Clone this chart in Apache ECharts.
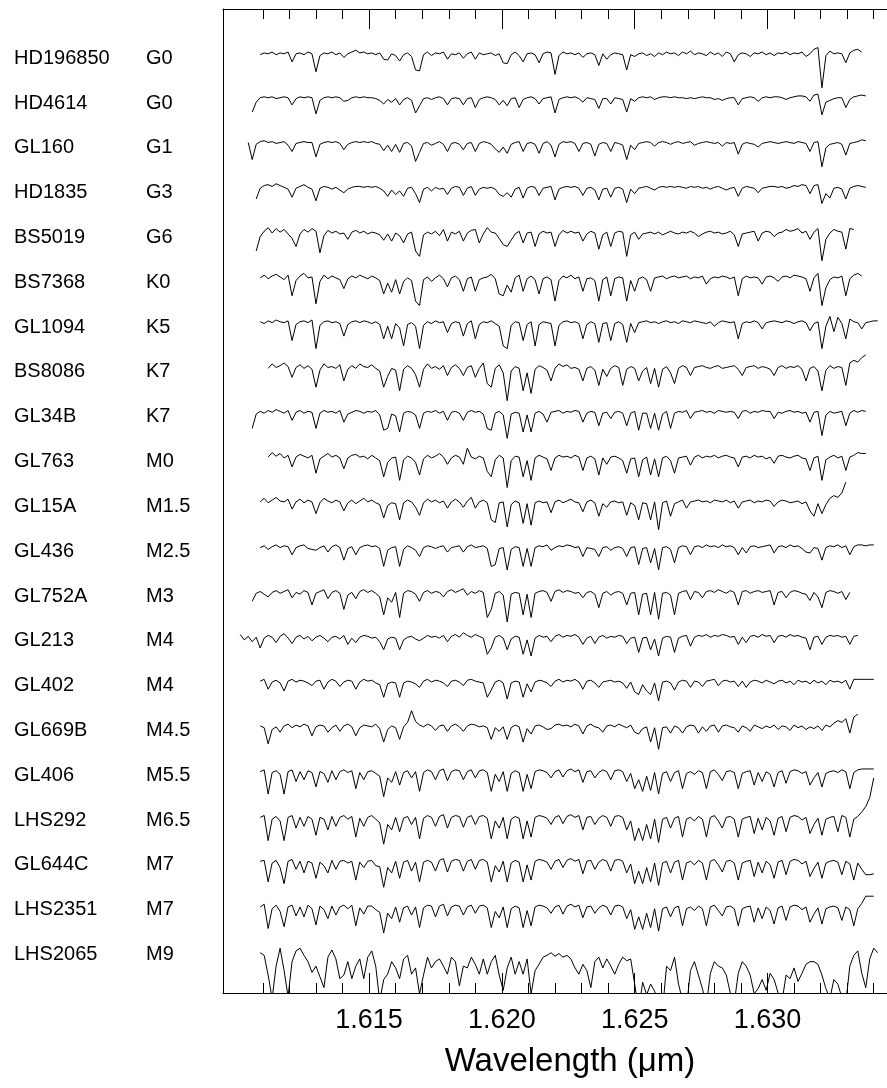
<!DOCTYPE html>
<html>
<head>
<meta charset="utf-8">
<title>H-band spectral sequence</title>
<script src="https://cdn.jsdelivr.net/npm/echarts@6/dist/echarts.min.js"></script>
<style>
  html, body { margin: 0; padding: 0; background: #fff; }
  #chart { width: 887px; height: 1088px; }
</style>
</head>
<body>
<div id="chart"></div>
<script>
// Star names and spectral types, top to bottom
const stars = ['HD196850','HD4614','GL160','HD1835','BS5019','BS7368','GL1094','BS8086','GL34B','GL763','GL15A',
               'GL436','GL752A','GL213','GL402','GL669B','GL406','LHS292','GL644C','LHS2351','LHS2065'];
const types = ['G0','G0','G1','G3','G6','K0','K5','K7','K7','M0','M1.5','M2.5','M3','M4','M4','M4.5','M5.5','M6.5','M7','M7','M9'];

// First wavelength (µm) of each spectrum; samples are spaced by STEP
const STEP = 0.00015;
const startWl = [1.6109,1.6106,1.61045,1.61075,1.61075,1.6109,1.6109,1.6112,1.6106,1.6112,1.6109,
                 1.6109,1.6106,1.61015,1.6109,1.6109,1.6109,1.6109,1.6109,1.6109,1.6109];

// Absorption depth below the continuum, in percent of continuum (negative = above)
const dHD196850 = [3,1,2,0,3,1,2,0,11,2, 1,3,0,2,22,4,1,2,0,3, 1,6,2,0,-2,1,0,2,1,3, 1,8,9,2,4,10,3,1,5,20,
  21,3,0,4,1,2,0,8,2,3, 1,7,2,0,8,1,3,2,1,4, 2,12,13,3,0,4,11,2,1,3, 12,2,0,1,25,4,0,2,1,3,
  1,6,2,1,3,15,2,8,3,1, 2,3,20,3,5,2,1,4,2,5, 1,3,0,2,1,4,0,2,-1,3, 1,2,4,0,3,1,5,0,2,11,
  3,1,2,5,1,2,0,3,1,4, 1,2,0,3,1,2,0,5,2,-3, -5,40,4,-1,2,1,2,12,1,-2, -3,0];
const dHD4614 = [17,6,1,0,1,0,2,1,0,1, 9,2,0,1,0,1,19,4,1,0, 1,0,1,5,4,1,0,1,0,1, 1,2,4,8,3,6,2,9,3,1,
  4,18,10,2,1,3,1,0,2,9, 2,1,2,9,2,1,12,3,1,0, 1,3,9,4,10,2,1,12,3,1, 0,2,8,2,1,0,18,3,1,0,
  1,0,2,6,1,2,3,13,2,2, 8,1,2,3,17,2,5,1,0,1, 0,3,1,0,0,1,0,1,1,2, 1,2,1,0,1,1,3,2,4,2,
  1,1,9,2,1,0,1,5,1,0, 1,0,0,1,3,1,0,-1,-1,0, 5,-2,-3,20,6,4,2,1,1,12, 3,0,-1,-2,-1];
const dGL160 = [1,20,3,0,-1,1,0,2,1,0, 4,11,2,1,0,1,1,17,3,1, 0,1,0,2,9,3,1,0,1,0, 1,0,2,3,10,4,11,3,12,2,
  1,5,22,12,2,1,4,2,0,3, 11,2,1,3,9,2,1,11,2,0, 1,3,8,12,6,13,3,1,0,11, 2,1,3,13,2,0,4,17,3,0,
  1,0,2,11,2,1,3,16,3,1, 2,11,1,2,4,20,4,9,2,1, 0,1,5,1,0,1,3,1,0,2, 1,0,4,2,1,0,1,2,1,5,
  1,2,1,14,3,1,2,3,6,2, 1,0,1,2,1,0,1,2,0,1, 2,11,1,0,28,7,3,2,1,3, 15,2,1,0,-2,-1];
const dHD1835 = [14,2,-1,-2,0,-3,-1,1,3,12, 2,0,-2,1,3,16,2,0,1,3, 1,4,7,3,1,0,0,1,0,1, 0,2,5,11,4,9,5,11,2,1,
  8,18,3,1,5,1,3,2,9,2, 0,1,10,2,0,10,3,1,2,1, 3,9,11,7,12,3,1,13,2,0, 1,10,2,1,0,15,3,1,0,1,
  0,2,10,2,1,4,15,3,2,12, 2,1,3,18,3,8,2,1,0,2, 4,1,0,1,0,1,0,1,2,0, 1,0,2,1,3,1,0,2,4,2,
  1,11,2,0,1,2,7,2,1,0, 0,1,0,2,1,-1,0,-2,-1,8, -1,-2,19,8,13,2,1,3,14,2, 0,-1,0,1];
const dBS5019 = [22,6,0,-4,2,-3,1,-2,3,8, 17,3,-2,1,-3,0,24,5,-1,2, 0,3,2,9,1,-1,2,0,3,1, 2,4,10,3,11,2,5,13,3,1,
  22,28,4,1,3,0,5,-2,11,1, 3,0,11,2,-1,-2,13,3,-4,1, 2,8,15,17,10,3,0,13,2,1, 17,3,0,2,1,17,4,-1,2,0,
  2,1,11,3,0,2,20,4,1,17, 2,0,1,28,4,1,9,3,2,1, 3,1,4,2,0,2,3,1,2,0, 2,6,3,1,0,2,1,3,2,0,
  4,17,3,2,1,0,11,2,0,1, 6,2,1,-2,0,-1,-3,2,0,9, 1,-3,33,9,2,-2,0,1,20,-3, -2];
const dBS7368 = [2,-1,3,0,-2,1,4,-1,22,5, 0,-3,2,1,31,6,-1,3,0,2, 4,14,3,0,2,-1,1,3,0,2, 5,20,8,18,4,20,6,2,5,28,
  33,4,1,6,2,-1,3,12,2,0, 4,17,3,1,17,4,2,1,-2,3, 20,22,10,18,2,-1,17,3,0,4, 20,3,1,4,28,5,0,2,-1,3,
  1,17,3,2,5,28,4,1,22,3, 1,2,28,5,17,3,1,4,17,2, 1,0,3,1,0,2,1,0,3,1, 2,0,9,3,1,2,0,1,3,1,
  22,3,0,2,1,2,9,1,0,2, 6,1,0,2,-1,0,1,3,17,2, -3,33,13,4,1,2,0,22,3,-1, -3,0];
const dGL1094 = [1,3,0,2,-1,1,2,0,22,4, 1,0,2,-1,31,5,1,0,2,1, 3,17,4,1,0,2,0,1,3,1, 4,20,6,20,3,8,28,4,2,6,
  31,5,1,3,0,2,1,13,3,1, 2,17,3,0,20,4,1,2,0,3, 6,28,31,5,1,2,22,4,1,28, 4,1,2,3,28,5,1,0,2,1,
  3,20,4,1,3,24,3,2,22,3, 1,4,24,3,13,2,1,0,2,1, 3,1,0,2,1,3,0,1,2,0, 1,2,3,1,6,2,0,1,2,1,
  20,3,1,2,0,2,9,2,1,0, 1,2,0,1,3,1,0,2,11,3, 1,31,6,-5,12,-4,3,20,-2,1, 2,9,2,1,0,0];
const dBS8086 = [3,-2,2,0,-3,1,13,2,-1,3, 0,4,24,5,-2,2,1,3,-1,17, 4,0,3,-2,1,2,-1,3,6,24, 12,3,5,28,4,0,3,10,24,4,
  -2,3,1,4,0,11,2,-1,3,11, 2,0,13,3,-3,20,24,3,-1,8, 39,6,1,3,28,8,31,4,0,2, 5,17,3,-2,1,-1,3,2,4,17,
  3,1,5,22,4,12,3,0,2,22, 4,1,3,17,6,2,20,3,24,4, 1,8,20,3,0,2,11,2,1,0, 2,3,1,0,3,2,1,0,4,11,
  2,1,0,3,1,2,4,11,2,0, 3,1,2,0,4,17,3,1,6,28, 5,0,3,1,2,22,-3,-6,-4,-9, -12];
const dGL34B = [20,4,1,3,0,2,-1,1,3,0, 11,2,0,3,1,2,20,3,0,2, 1,3,0,13,4,2,0,1,3,1, 2,0,5,22,20,4,6,24,3,1,
  2,5,20,3,1,2,0,3,1,11, 2,1,3,11,2,0,2,1,4,20, 22,3,1,5,31,4,2,3,24,5, 24,3,1,4,13,2,1,0,3,1,
  2,0,1,13,3,1,2,17,3,2, 9,2,1,3,17,3,1,22,3,3, 20,3,22,4,1,20,3,1,2,0, 9,2,1,0,2,1,3,0,1,2,
  1,2,9,1,0,3,1,2,0,1, 1,9,2,3,1,0,2,1,3,2, 13,2,1,28,5,1,3,2,1,17, 3,0,2,0,1];
const dGL763 = [2,-3,1,-2,3,0,13,2,-1,1, 3,0,20,4,1,-2,2,0,3,15, 3,0,-1,2,1,4,0,3,6,24, 8,3,2,28,5,1,3,8,22,4,
  0,3,1,-2,2,10,3,0,2,10, -8,2,4,1,3,18,24,5,0,3, 36,6,1,2,24,6,28,3,0,2, 4,17,3,0,2,1,3,0,2,17,
  3,1,4,22,3,10,2,1,3,6, 20,4,3,24,5,2,22,4,24,3, 1,6,20,3,2,1,11,2,0,3, 1,2,0,3,1,0,2,3,13,2,
  1,3,0,2,1,4,2,9,1,0, 2,3,1,0,3,4,17,3,1,28, 5,2,0,3,1,17,2,0,-3,-2, -2];
const dGL15A = [2,-2,3,0,-3,1,2,-1,10,2, -1,3,0,2,15,3,-2,1,3,0, 2,12,3,0,4,1,-2,2,0,3, 5,20,6,3,4,22,3,0,2,8,
  17,3,-1,2,0,3,1,9,2,-1, 2,8,1,-3,9,2,0,3,22,25, 3,2,30,5,1,3,26,4,28,3, 1,3,2,14,2,0,3,1,-1,2,
  3,13,2,0,3,18,4,8,2,1, 3,2,17,3,6,22,3,4,22,2, 33,3,1,18,4,2,0,9,2,1, 0,2,1,3,0,1,2,0,3,1,
  9,2,1,0,3,1,2,0,1,7, 2,0,1,3,2,1,4,2,12,18, 4,15,5,-2,-5,-3,-8,-20];
const dGL436 = [3,1,5,2,0,3,1,2,11,3, 1,0,4,5,6,3,1,8,2,0, 3,17,4,2,11,3,1,0,2,1, 4,24,6,3,2,24,5,1,3,6,
  13,3,1,2,4,2,1,8,3,2, 1,8,2,0,3,2,1,4,24,22, 4,3,28,5,2,3,24,4,24,3, 1,2,0,6,3,1,2,0,1,3,
  2,13,3,4,5,13,3,2,6,3, 2,4,13,3,2,22,4,3,20,4, 28,3,2,5,20,3,1,2,11,2, 1,3,0,2,1,3,0,2,1,3,
  11,3,9,2,1,3,2,1,0,9, 2,1,3,0,2,1,4,8,9,3, 4,17,3,1,2,0,3,1,11,2, 0,0,1,0,0];
const dGL752A = [13,4,2,5,8,3,1,4,2,0, 9,3,5,1,3,17,4,2,0,10, 3,1,4,22,6,3,10,2,0,3, 1,4,8,28,9,14,3,31,4,1,
  2,5,13,3,1,4,2,3,8,2, 0,3,1,-1,6,2,4,1,3,31, 22,4,2,6,36,5,3,4,28,5, 31,4,2,1,3,13,2,0,3,1,
  2,4,3,9,3,2,5,20,4,2, 6,3,2,4,17,4,3,28,5,4, 28,3,33,4,3,6,28,4,2,1, 11,2,3,9,2,1,3,0,2,4,
  1,3,17,2,1,4,2,1,3,2, 1,17,3,2,9,3,1,2,4,5, 12,3,8,20,3,1,2,4,2,11, 3];
const dGL213 = [0,6,2,8,3,15,4,1,3,9, 2,-1,4,10,3,1,5,2,7,3, 1,4,8,3,2,5,1,11,4,9, 3,1,2,4,3,8,17,5,3,4,
  17,6,3,2,5,7,4,1,3,2, 4,1,8,2,0,3,-2,1,3,0, 2,4,22,15,3,1,4,17,5,2, 3,22,6,24,4,1,3,2,8,2,
  0,3,1,2,0,3,11,4,2,10, 3,1,4,2,3,1,2,10,4,3, 20,4,3,17,5,24,4,2,3,20, 4,2,1,13,3,1,2,0,3,1,
  2,0,1,3,2,11,3,9,2,1, 3,0,2,1,9,2,1,3,0,2, 1,3,4,17,3,2,11,3,1,2, 1,3,2,11,2,1];
const dGL402 = [2,0,11,3,1,4,13,2,0,3, 1,2,4,7,2,1,11,3,0,2, 8,3,1,2,11,3,0,2,1,4, 6,20,5,3,4,20,4,2,3,5,
  9,2,0,3,1,2,4,8,2,1, 3,7,1,0,2,3,4,20,12,3, 1,4,22,4,2,3,20,5,14,3, 1,2,4,8,2,0,3,1,2,0,
  3,11,2,1,4,9,3,2,1,3, 2,4,10,3,14,17,6,13,17,4, 24,3,2,4,12,3,1,2,9,2, 3,8,2,1,0,7,2,1,3,2,
  8,2,9,3,1,2,4,1,3,5, 2,1,4,2,6,1,3,2,5,1, 4,2,6,1,3,2,4,1,11,0, 0,0,0,0,0];
const dGL669B = [2,4,22,6,3,9,2,0,4,1, 3,0,2,13,3,1,2,9,4,1, 8,2,0,3,13,4,1,2,3,0, 5,20,6,2,4,17,3,-2,-15,-3,
  1,3,0,2,7,2,1,8,2,0, 3,8,2,0,1,3,2,4,17,4, 8,3,17,4,1,3,20,5,11,2, 1,3,6,5,1,0,2,1,3,0,
  2,11,2,0,3,4,9,2,1,3, 0,2,4,1,9,11,5,3,20,4, 28,4,3,10,2,4,10,3,1,2, 10,3,8,2,1,9,2,1,3,4,
  9,2,4,8,1,3,5,2,4,1, 6,2,3,7,1,4,2,6,3,5, 2,7,1,3,-1,-4,-2,-6,10,-8, -11];
const dGL406 = [3,1,28,4,2,6,28,3,1,14, 3,12,2,4,20,3,5,15,2,12, 3,1,4,2,22,4,12,3,2,5, 8,31,10,15,3,18,4,2,10,3,
  25,4,1,3,12,2,0,13,3,1, 2,12,3,1,10,2,1,4,25,6, 14,3,25,5,2,4,25,6,22,3, 1,2,4,10,3,1,9,2,0,3,
  1,15,3,2,10,4,1,3,12,2, 1,3,14,5,22,12,25,8,24,4, 28,5,3,14,4,2,22,5,3,6, 2,4,22,3,1,6,13,3,2,4,
  22,5,3,2,18,4,14,3,6,20, 4,2,16,3,1,2,5,3,18,10, 4,20,5,3,2,4,1,3,22,4, 1,0,0,0,0];
const dLHS292 = [4,2,30,6,3,8,30,4,2,16, 4,14,3,6,24,4,6,18,3,14, 4,2,6,3,26,5,14,4,2,6, 10,34,12,18,4,20,5,3,12,4,
  28,5,2,4,14,3,1,16,4,2, 3,15,4,2,12,3,2,5,28,8, 16,4,28,6,3,5,28,8,26,4, 2,3,5,12,4,2,11,3,1,4,
  2,18,4,3,12,5,2,4,14,3, 2,4,18,8,30,16,30,12,28,6, 32,6,4,16,5,3,26,6,4,8, 3,6,26,4,2,8,16,4,3,6,
  26,6,4,3,22,5,18,4,8,24, 5,3,20,4,2,3,7,4,22,12, 5,24,6,4,3,20,2,4,26,6, 3,-2,-8,-18,-40];
const dGL644C = [3,2,26,5,2,10,28,3,1,12, 3,16,3,5,22,4,8,16,2,12, 3,2,5,3,24,4,10,3,2,8, 9,32,10,16,3,22,4,2,14,4,
  26,4,2,4,14,2,0,15,3,1, 2,14,3,1,12,2,1,4,26,8, 15,3,26,5,2,4,26,7,24,3, 1,2,4,12,3,1,10,2,0,3,
  1,17,3,2,12,4,1,3,14,2, 1,3,16,6,28,14,28,10,26,5, 30,5,3,16,4,2,24,5,3,7, 2,5,24,3,1,7,15,3,2,5,
  24,5,3,2,20,4,16,3,7,22, 4,2,18,3,1,2,6,3,20,11, 4,22,5,3,2,4,18,3,6,24, 5,12,18,18,17];
const dLHS2351 = [4,1,28,6,2,9,26,4,2,14, 4,15,2,6,24,3,7,17,3,13, 4,2,6,2,25,5,12,3,3,7, 10,33,11,17,4,21,5,3,13,4,
  27,5,2,3,15,3,1,14,4,2, 3,13,4,2,11,3,2,5,27,9, 16,4,27,6,3,5,27,8,25,4, 2,3,5,11,4,2,12,3,1,4,
  2,16,4,3,11,5,2,4,13,3, 2,4,17,7,29,15,29,11,27,6, 31,6,4,15,5,3,25,6,4,8, 3,6,25,4,2,8,14,4,3,6,
  25,6,4,3,21,5,17,4,8,23, 5,3,19,4,2,3,7,4,21,12, 5,23,6,4,3,5,19,4,7,25, 6,0,-8,-8,-8];
const dLHS2065 = [5,8,30,56,20,0,25,54,15,3, 0,8,15,27,20,32,44,10,2,12, 34,30,15,34,20,12,34,10,3,20, 59,35,29,15,22,34,12,8,29,22,
  51,30,10,22,15,12,20,29,10,15, 42,20,22,10,18,29,12,29,15,8, 30,47,22,10,29,15,29,12,51,25, 18,10,8,5,9,6,10,8,12,22,
  29,18,25,44,15,10,22,12,20,29, 18,10,14,12,40,69,38,52,40,48, 60,69,20,25,10,40,58,66,25,15, 30,45,64,28,15,20,22,30,50,61,
  28,15,20,30,51,45,35,47,28,35, 50,59,30,34,22,37,28,18,15,15, 18,30,45,56,35,40,55,61,20,8, 3,28,44,12,0,5];

const depths = [dHD196850,dHD4614,dGL160,dHD1835,dBS5019,dBS7368,dGL1094,dBS8086,dGL34B,dGL763,dGL15A,
                dGL436,dGL752A,dGL213,dGL402,dGL669B,dGL406,dLHS292,dGL644C,dLHS2351,dLHS2065];

// Axis ticks (µm)
const minorTicks = [1.611,1.612,1.613,1.614,1.615,1.616,1.617,1.618,1.619,1.620,1.621,1.622,
                    1.623,1.624,1.625,1.626,1.627,1.628,1.629,1.630,1.631,1.632,1.633,1.634];
const majorTicks = [1.615,1.620,1.625,1.630];

const XMIN = 1.6095, XMAX = 1.6345;
const SHIFT = 0.5;        // vertical offset between consecutive spectra (continuum units)
const LABEL_DROP = 0.07;  // star labels sit slightly below each continuum
const FONT = 'Liberation Sans, Arial, Helvetica, sans-serif';

const series = stars.map((name, k) => ({
  name: name,
  type: 'line',
  data: depths[k].map((d, i) => [startWl[k] + i * STEP, 1 - d / 100 - SHIFT * k]),
  showSymbol: false,
  symbol: 'none',
  silent: true,
  clip: true,
  lineStyle: { color: '#000', width: 1 },
  xAxisIndex: 0,
  yAxisIndex: 0
}));

const labelValues = stars.map((s, k) => 1 - SHIFT * k - LABEL_DROP);

// Frame edges: ticks point into the plot, no axis is pinned to zero
function tickAxis(position, ticks, len, withLine) {
  return {
    type: 'value', position: position, min: XMIN, max: XMAX,
    axisLine: { show: withLine, onZero: false, lineStyle: { color: '#000', width: 1 } },
    axisTick: { show: true, inside: true, length: len, customValues: ticks, lineStyle: { color: '#000', width: 1 } },
    axisLabel: { show: false },
    splitLine: { show: false }
  };
}

const bottomAxis = tickAxis('bottom', minorTicks, 10, true);
bottomAxis.axisLabel = {
  show: true, customValues: majorTicks, formatter: v => v.toFixed(3),
  fontSize: 27, color: '#000', fontFamily: FONT, margin: 14
};
bottomAxis.name = 'Wavelength (\u03bcm)';
bottomAxis.nameLocation = 'middle';
bottomAxis.nameGap = 52;
bottomAxis.nameTextStyle = { fontSize: 33, color: '#000', fontFamily: FONT, padding: [0, 0, 0, 30] };

const chart = echarts.init(document.getElementById('chart'), null, { renderer: 'canvas' });
chart.setOption({
  animation: false,
  backgroundColor: '#fff',
  grid: { left: 223, right: 0, top: 9, bottom: 95, containLabel: false },
  xAxis: [
    bottomAxis,
    tickAxis('bottom', majorTicks, 20, false),
    tickAxis('top', minorTicks, 10, true),
    tickAxis('top', majorTicks, 20, false)
  ],
  yAxis: {
    type: 'value', min: -9.5, max: 1.48,
    axisLine: { show: true, onZero: false, lineStyle: { color: '#000', width: 1 } },
    axisTick: { show: false },
    splitLine: { show: false },
    axisLabel: {
      show: true,
      customValues: labelValues,
      align: 'left',
      margin: 209,
      formatter: v => {
        const k = Math.round((1 - LABEL_DROP - v) / SHIFT);
        return '{n|' + stars[k] + '}{t|' + types[k] + '}';
      },
      rich: {
        n: { width: 132, fontSize: 20, color: '#000', fontFamily: FONT },
        t: { fontSize: 20, color: '#000', fontFamily: FONT }
      }
    }
  },
  series: series
});
</script>
</body>
</html>
